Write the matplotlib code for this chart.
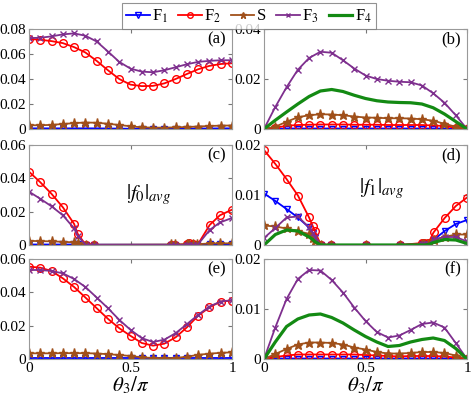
import numpy as np
import matplotlib.pyplot as plt

plt.rcParams['font.family'] = ['Liberation Serif', 'DejaVu Serif']
plt.rcParams['mathtext.fontset'] = 'stix'

# common grid of 19 angles (theta_3 / pi)
x = np.linspace(0, 1, 19)

# (a) |f0| full range
F1_a = [0.0005, 0.0005, 0.0005, 0.0005, 0.0005, 0.0005, 0.0005, 0.0004, 0.0003, 0.0002, 0.0002, 0.0002, 0.0002, 0.0003, 0.0003, 0.0004, 0.0004, 0.0005, 0.0005]
F2_a = [0.0720, 0.0714, 0.0703, 0.0687, 0.0655, 0.0612, 0.0545, 0.0470, 0.0400, 0.0355, 0.0343, 0.0345, 0.0365, 0.0400, 0.0440, 0.0478, 0.0505, 0.0520, 0.0526]
S_a = [0.0030, 0.0030, 0.0033, 0.0040, 0.0047, 0.0052, 0.0050, 0.0042, 0.0032, 0.0022, 0.0013, 0.0011, 0.0011, 0.0013, 0.0016, 0.0020, 0.0024, 0.0027, 0.0028]
F3_a = [0.0727, 0.0730, 0.0741, 0.0757, 0.0765, 0.0746, 0.0700, 0.0620, 0.0537, 0.0483, 0.0459, 0.0454, 0.0470, 0.0494, 0.0518, 0.0537, 0.0545, 0.0550, 0.0550]

# (b) |f1| full range
F1_b = [0.0000, 0.0001, 0.0002, 0.0002, 0.0002, 0.0002, 0.0002, 0.0002, 0.0002, 0.0002, 0.0002, 0.0002, 0.0002, 0.0002, 0.0002, 0.0002, 0.0002, 0.0001, 0.0000]
F2_b = [0.0000, 0.0005, 0.0013, 0.0016, 0.0017, 0.0018, 0.0018, 0.0018, 0.0017, 0.0017, 0.0017, 0.0016, 0.0016, 0.0016, 0.0016, 0.0014, 0.0012, 0.0005, 0.0000]
S_b = [0.0000, 0.0009, 0.0029, 0.0047, 0.0055, 0.0059, 0.0058, 0.0055, 0.0050, 0.0046, 0.0045, 0.0043, 0.0043, 0.0042, 0.0039, 0.0033, 0.0021, 0.0009, 0.0000]
F3_b = [0.0000, 0.0088, 0.0167, 0.0237, 0.0284, 0.0309, 0.0305, 0.0275, 0.0242, 0.0214, 0.0200, 0.0193, 0.0189, 0.0187, 0.0174, 0.0143, 0.0105, 0.0055, 0.0000]
F4_b = [0.0000, 0.0035, 0.0068, 0.0100, 0.0130, 0.0152, 0.0158, 0.0150, 0.0135, 0.0122, 0.0113, 0.0108, 0.0106, 0.0105, 0.0100, 0.0085, 0.0060, 0.0030, 0.0000]

# (c) |f0|_avg, sampled more densely near the transitions
x_c = [0, 0.056, 0.111, 0.167, 0.222, 0.24, 0.28, 0.32, 0.70, 0.72, 0.78, 0.79, 0.81, 0.83, 0.89, 0.94, 1.0]
F1_c = [0.0003, 0.0003, 0.0003, 0.0003, 0.0003, 0.0003, 0.0002, 0.0002, 0.0002, 0.0002, 0.0002, 0.0002, 0.0002, 0.0002, 0.0003, 0.0003, 0.0003]
F2_c = [0.0440, 0.0376, 0.0307, 0.0226, 0.0127, 0.0067, 0.0000, 0.0000, 0.0000, 0.0000, 0.0005, 0.0010, 0.0008, 0.0000, 0.0120, 0.0178, 0.0212]
S_c = [0.0025, 0.0023, 0.0022, 0.0019, 0.0016, 0.0013, 0.0002, 0.0002, 0.0003, 0.0003, 0.0005, 0.0005, 0.0005, 0.0005, 0.0009, 0.0010, 0.0010]
F3_c = [0.0320, 0.0277, 0.0232, 0.0178, 0.0100, 0.0055, 0.0000, 0.0000, 0.0000, 0.0000, 0.0000, 0.0000, 0.0000, 0.0000, 0.0090, 0.0135, 0.0162]

# (d) |f1|_avg
x_d = [0, 0.056, 0.111, 0.167, 0.222, 0.24, 0.25, 0.28, 0.33, 0.5, 0.67, 0.78, 0.79, 0.81, 0.835, 0.89, 0.945, 1.0]
F1_d = [0.0103, 0.0088, 0.0072, 0.0055, 0.0035, 0.0024, 0.0015, 0, 0, 0, 0, 0.0002, 0.0002, 0.0002, 0.0010, 0.0028, 0.0042, 0.0050]
F2_d = [0.0190, 0.0162, 0.0132, 0.0099, 0.0055, 0.0038, 0.0028, 0, 0, 0, 0, 0.0004, 0.0004, 0.0004, 0.0025, 0.0054, 0.0078, 0.0095]
S_d = [0.0039, 0.0037, 0.0033, 0.0028, 0.0022, 0.0014, 0.0008, 0, 0, 0, 0, 0.0002, 0.0002, 0.0002, 0.0010, 0.0016, 0.0021, 0.0021]
F3_d = [0.0014, 0.0034, 0.0055, 0.0057, 0.0035, 0.0024, 0.0015, 0, 0, 0, 0, 0.0001, 0.0001, 0.0001, 0.0011, 0.0016, 0.0016, 0.0007]
F4_d = [0.0000, 0.0021, 0.0030, 0.0028, 0.0016, 0.0011, 0.0007, 0, 0, 0, 0, 0, 0, 0.0001, 0.0005, 0.0011, 0.0010, 0.0003]

# (e) |f0| second case
F1_e = [0.0005, 0.0005, 0.0005, 0.0005, 0.0005, 0.0005, 0.0005, 0.0005, 0.0005, 0.0005, 0.0005, 0.0005, 0.0005, 0.0005, 0.0005, 0.0005, 0.0005, 0.0005, 0.0005]
F2_e = [0.0554, 0.0548, 0.0528, 0.0484, 0.0432, 0.0369, 0.0305, 0.0241, 0.0185, 0.0139, 0.0096, 0.0080, 0.0092, 0.0130, 0.0190, 0.0260, 0.0310, 0.0345, 0.0350]
S_e = [0.0034, 0.0034, 0.0034, 0.0035, 0.0035, 0.0035, 0.0033, 0.0029, 0.0024, 0.0018, 0.0010, 0.0006, 0.0004, 0.0006, 0.0014, 0.0025, 0.0032, 0.0037, 0.0040]
F3_e = [0.0534, 0.0534, 0.0528, 0.0514, 0.0480, 0.0432, 0.0369, 0.0305, 0.0235, 0.0175, 0.0125, 0.0102, 0.0116, 0.0155, 0.0209, 0.0265, 0.0315, 0.0345, 0.0353]

# (f) |f1| second case
F1_f = [0.0000, 0.0001, 0.0001, 0.0001, 0.0001, 0.0001, 0.0001, 0.0001, 0.0001, 0.0001, 0.0001, 0.0001, 0.0001, 0.0001, 0.0001, 0.0001, 0.0001, 0.0001, 0.0000]
F2_f = [0.0000, 0.0004, 0.0007, 0.0009, 0.0009, 0.0009, 0.0009, 0.0009, 0.0009, 0.0008, 0.0007, 0.0006, 0.0005, 0.0006, 0.0006, 0.0006, 0.0005, 0.0003, 0.0000]
S_f = [0.0000, 0.0010, 0.0020, 0.0029, 0.0033, 0.0033, 0.0032, 0.0029, 0.0023, 0.0019, 0.0014, 0.0011, 0.0011, 0.0012, 0.0014, 0.0014, 0.0012, 0.0007, 0.0000]
F3_f = [0.0000, 0.0063, 0.0120, 0.0160, 0.0178, 0.0177, 0.0158, 0.0133, 0.0103, 0.0076, 0.0054, 0.0043, 0.0047, 0.0058, 0.0070, 0.0073, 0.0063, 0.0032, 0.0000]
F4_f = [0.0000, 0.0034, 0.0065, 0.0080, 0.0088, 0.0090, 0.0083, 0.0072, 0.0058, 0.0045, 0.0034, 0.0025, 0.0027, 0.0034, 0.0039, 0.0042, 0.0037, 0.0021, 0.0000]

blue = '#0000ff'
red = '#ff0000'
brown = '#a0501a'
purple = '#7e2f8e'
green = '#138a13'

fig = plt.figure(figsize=(4.74, 3.98), dpi=100)
lefts = [29 / 474, 264 / 474]
bottoms = [1 - 129 / 398, 1 - 245 / 398, 1 - 359 / 398]
w = 203 / 474
h = 100 / 398


def draw(ax, xs, f1, f2, s, f3, f4=None):
    ax.plot(xs, f1, '-v', color=blue, mfc='none', ms=5, lw=1.3, mew=1)
    ax.plot(xs, f2, '-o', color=red, mfc='none', ms=5.5, lw=1.3, mew=1)
    ax.plot(xs, s, '-*', color=brown, ms=6.5, lw=1.3)
    ax.plot(xs, f3, '-x', color=purple, ms=4, lw=1.3, mew=1)
    if f4 is not None:
        ax.plot(xs, f4, '-', color=green, lw=2.3)


panels = [
    (0, 0, x, F1_a, F2_a, S_a, F3_a, None, 0.08, [0, 0.02, 0.04, 0.06, 0.08], '(a)'),
    (1, 0, x, F1_b, F2_b, S_b, F3_b, F4_b, 0.04, [0, 0.02, 0.04], '(b)'),
    (0, 1, x_c, F1_c, F2_c, S_c, F3_c, None, 0.06, [0, 0.02, 0.04, 0.06], '(c)'),
    (1, 1, x_d, F1_d, F2_d, S_d, F3_d, F4_d, 0.02, [0, 0.01, 0.02], '(d)'),
    (0, 2, x, F1_e, F2_e, S_e, F3_e, None, 0.06, [0, 0.02, 0.04, 0.06], '(e)'),
    (1, 2, x, F1_f, F2_f, S_f, F3_f, F4_f, 0.02, [0, 0.01, 0.02], '(f)'),
]

axes = {}
for col, row, xs, f1, f2, s, f3, f4, ymax, yt, tag in panels:
    ax = fig.add_axes([lefts[col], bottoms[row], w, h])
    draw(ax, xs, f1, f2, s, f3, f4)
    ax.set_xlim(0, 1)
    ax.set_ylim(0, ymax)
    ax.set_xticks([0, 0.5, 1])
    ax.set_yticks(yt)
    ax.set_yticklabels(['%g' % v for v in yt])
    if row == 2:
        ax.set_xticklabels(['0', '0.5', '1'])
        ax.set_xlabel(r'$\theta_3/\pi$', fontsize=15, labelpad=0)
    else:
        ax.set_xticklabels([])
    ax.tick_params(direction='in', top=True, right=True, length=3,
                   labelsize=11, pad=2, color='#777777')
    for sp in ax.spines.values():
        sp.set_color('#999999')
        sp.set_linewidth(0.8)
    ax.text(0.97, 0.9, tag, transform=ax.transAxes, ha='right', va='center', fontsize=12)
    axes[tag] = ax

axes['(c)'].text(0.59, 0.5, r'$|f_0|_{avg}$', transform=axes['(c)'].transAxes,
                 ha='center', va='center', fontsize=15)
axes['(d)'].text(0.58, 0.56, r'$|f_1|_{avg}$', transform=axes['(d)'].transAxes,
                 ha='center', va='center', fontsize=15)

handles = [
    plt.Line2D([], [], color=blue, marker='v', mfc='none', ms=5, lw=1.3),
    plt.Line2D([], [], color=red, marker='o', mfc='none', ms=4, lw=1.3),
    plt.Line2D([], [], color=brown, marker='*', ms=5, lw=1.3),
    plt.Line2D([], [], color=purple, marker='x', ms=3.5, lw=1.3),
    plt.Line2D([], [], color=green, lw=2.3),
]
labels = [r'F$_1$', r'F$_2$', 'S', r'F$_3$', r'F$_4$']
leg = fig.legend(handles, labels, loc='upper center', bbox_to_anchor=(0.525, 1.0),
                 ncol=5, fontsize=12, frameon=True, fancybox=False, edgecolor='#777777',
                 handlelength=1.4, handletextpad=0.15, columnspacing=0.6,
                 borderpad=0.25, borderaxespad=0.2)
leg.get_frame().set_linewidth(0.8)

fig.savefig('out.png', dpi=100)
